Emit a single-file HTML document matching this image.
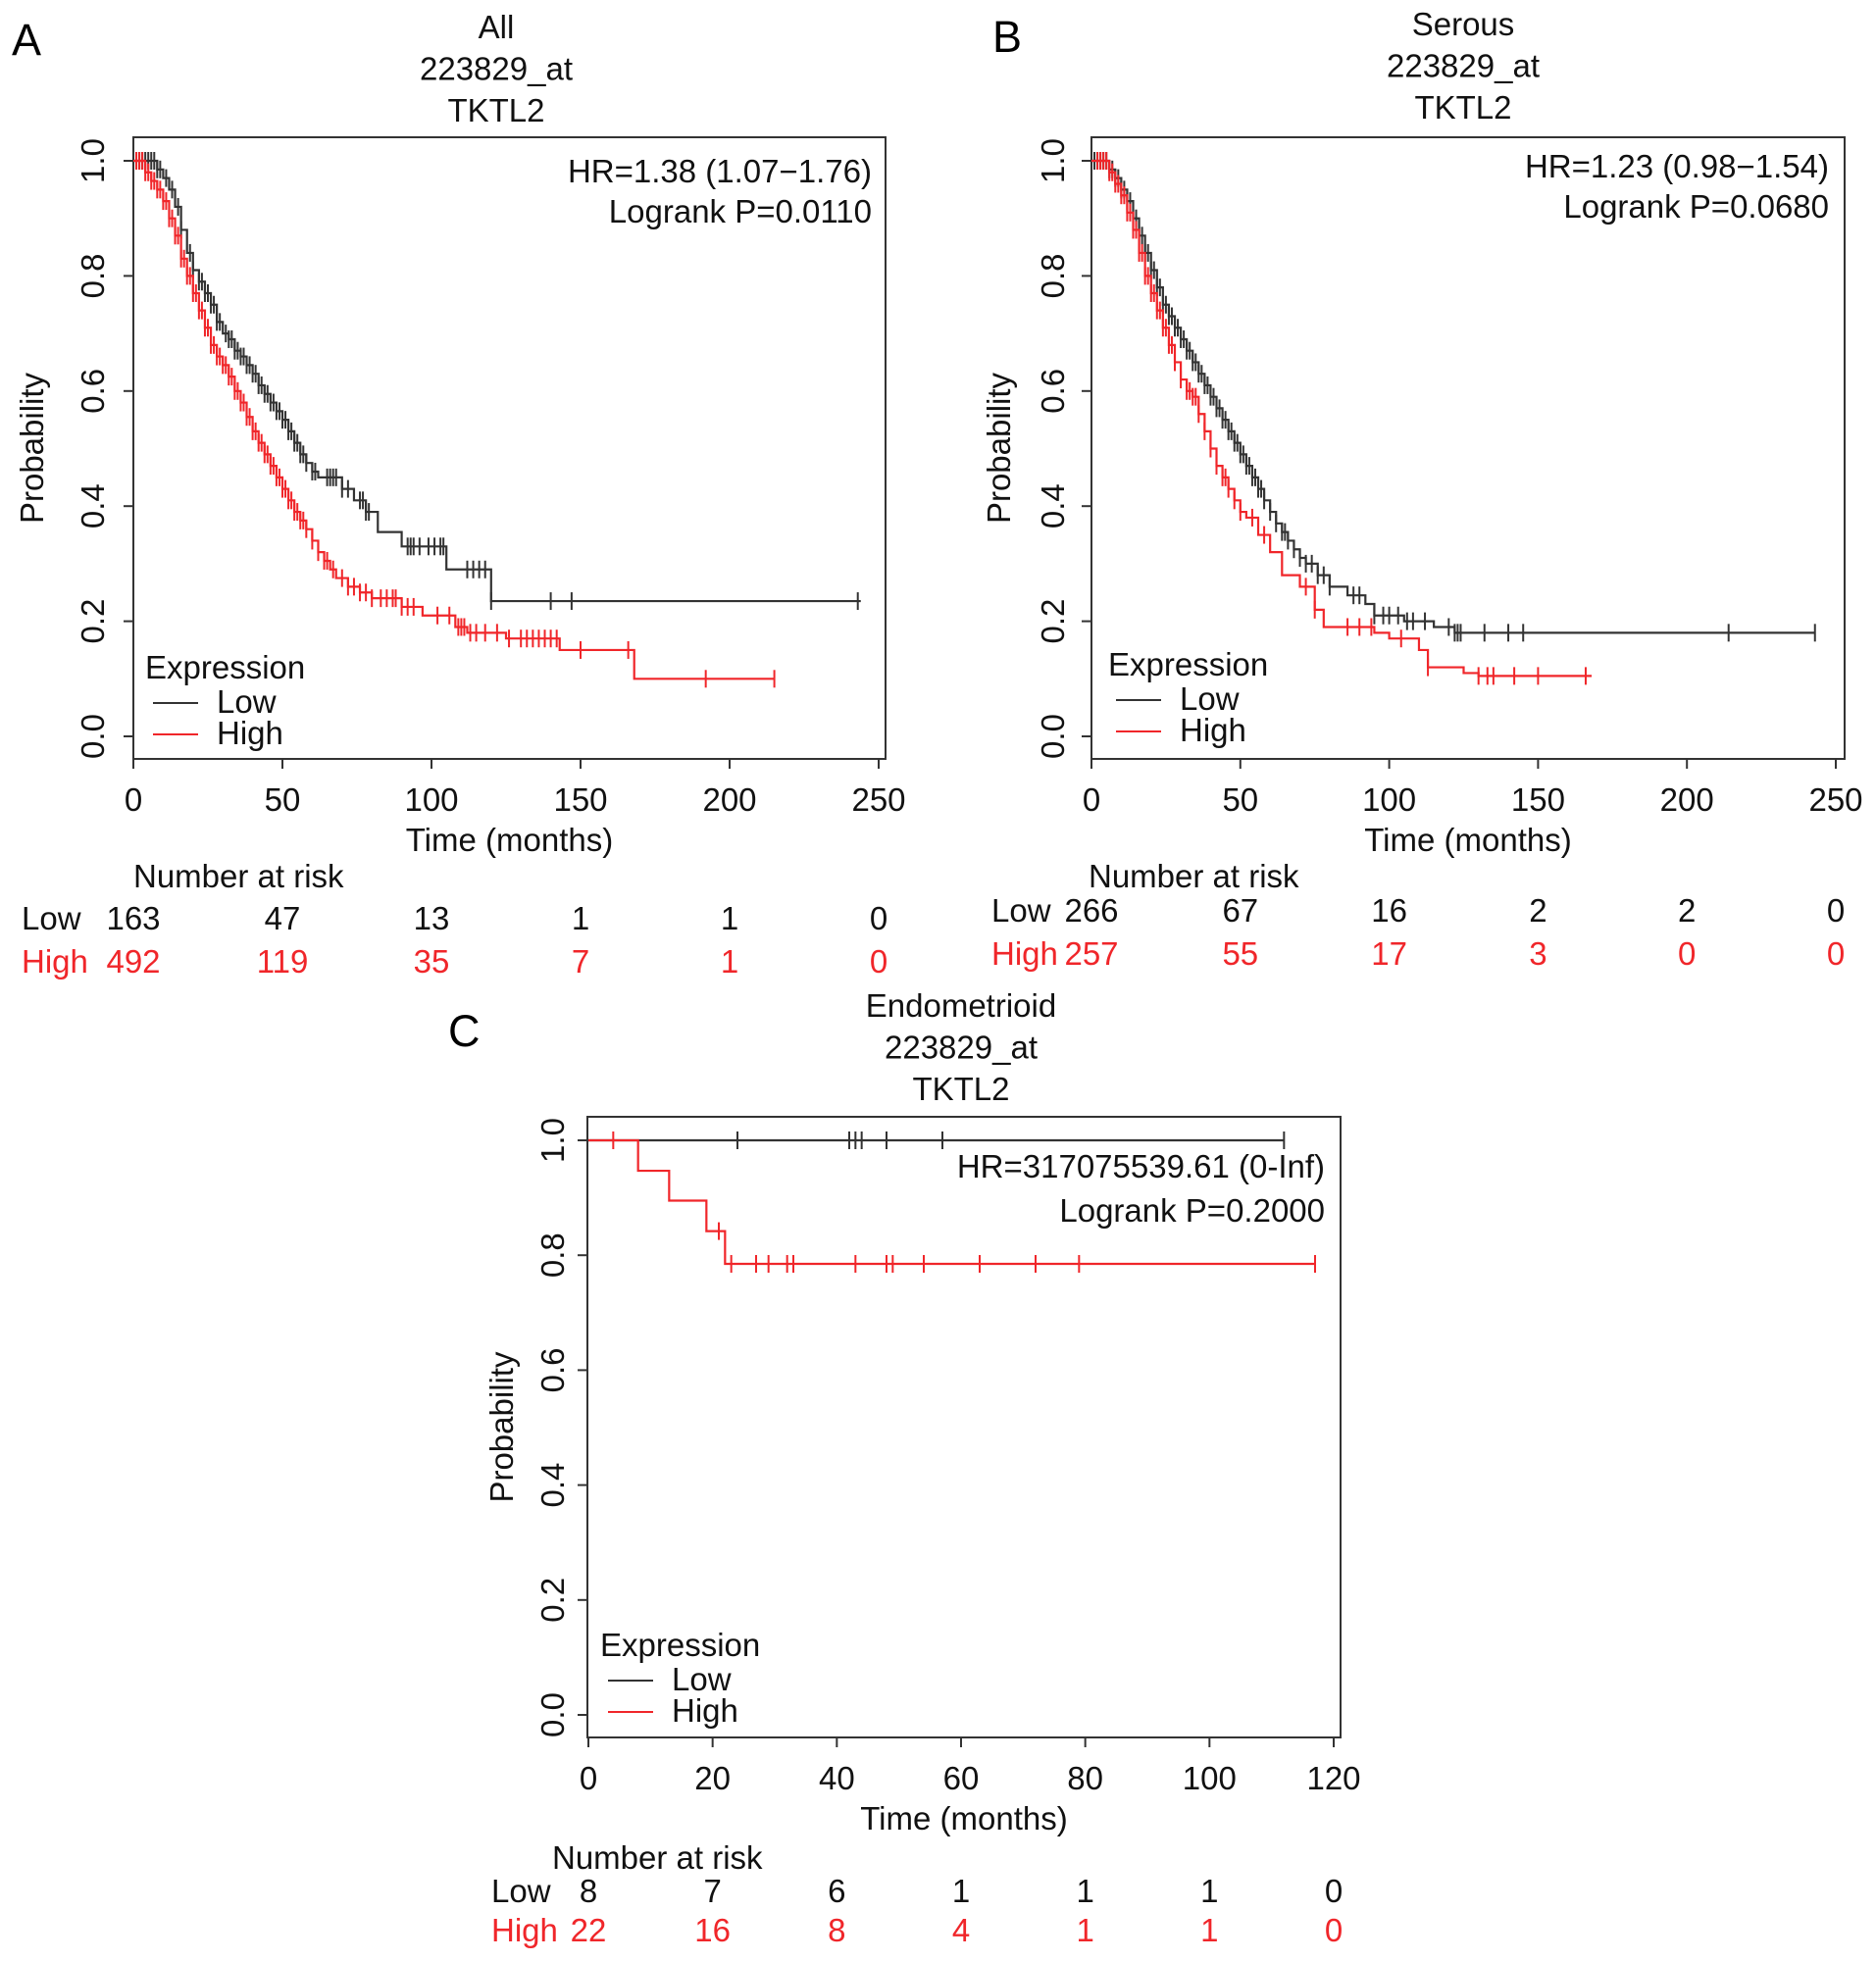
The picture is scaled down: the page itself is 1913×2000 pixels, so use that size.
<!DOCTYPE html>
<html><head><meta charset="utf-8"><style>
html,body{margin:0;padding:0;background:#fff;}
svg{display:block;font-family:"Liberation Sans",Arial,sans-serif;}
</style></head><body>
<svg id="fig" width="1913" height="2000" viewBox="0 0 1913 2000"></svg>
<script>
// ---- Panel A data (All) ----
const aLowT=[0,8,10,12,14,16,18,20,22,24,26,28,30,32,34,36,38,40,42,44,46,48,50,52,54,56,58,60,62,66,70,74,78,82,90,105,120,244];
const aLowS=[1,0.985,0.97,0.95,0.92,0.88,0.84,0.81,0.79,0.77,0.75,0.72,0.7,0.69,0.67,0.66,0.645,0.63,0.61,0.595,0.58,0.565,0.55,0.53,0.51,0.49,0.475,0.46,0.45,0.45,0.43,0.41,0.39,0.355,0.33,0.29,0.235,0.235];
const aLowC=[1,2,3,4,5,6,7,8,9,11,13,15,16,19,20,22,23,24,25,26,27,28,29,31,32,33,34,35,36,37,38,39,40,41,42,43,44,45,46,47,48,49,50,51,52,53,54,55,56,57,58,60,61,65,66,67,68,70,72,76,77,78,79,92,93,94,96,99,101,103,104,112,114,116,118,120,140,147,243];
const aHighT=[0,4,6,8,10,12,14,16,18,20,22,24,26,28,30,32,34,36,38,40,42,44,46,48,50,52,54,56,58,60,62,64,66,68,72,76,80,90,97,108,112,125,143,168,215];
const aHighS=[1,0.98,0.965,0.95,0.93,0.9,0.87,0.83,0.8,0.77,0.74,0.71,0.68,0.66,0.645,0.625,0.6,0.58,0.555,0.53,0.51,0.49,0.47,0.45,0.43,0.41,0.39,0.375,0.36,0.34,0.32,0.305,0.29,0.275,0.26,0.25,0.24,0.225,0.21,0.19,0.18,0.17,0.15,0.1,0.1];
const aHighC=[1,2,3,4,5,6,7,8,9,10,11,12,13,14,15,16,17,18,19,20,21,22,23,24,25,26,27,28,29,30,31,32,33,34,35,36,37,38,39,40,41,42,43,44,45,46,47,48,49,50,51,52,53,54,55,56,57,58,60,62,64,65,67,70,72,74,76,78,80,83,85,87,88,90,92,94,102,106,109,110,111,113,115,118,122,126,130,132,134,136,138,140,142,150,166,192,215];
const aLowRisk=[163,47,13,1,1,0];
const aHighRisk=[492,119,35,7,1,0];
const abTicksX=[0,50,100,150,200,250];
const yTicks=[0,0.2,0.4,0.6,0.8,1.0];
// ---- Panel B data (Serous) ----
const bLowT=[0,6,8,10,12,14,16,18,20,22,24,26,28,30,32,34,36,38,40,42,44,46,48,50,52,54,56,58,60,62,64,66,68,70,72,76,80,86,92,95,105,115,122,243];
const bLowS=[1,0.985,0.97,0.95,0.93,0.9,0.87,0.84,0.81,0.78,0.75,0.73,0.71,0.69,0.67,0.65,0.63,0.61,0.59,0.57,0.55,0.53,0.51,0.49,0.47,0.45,0.43,0.41,0.39,0.37,0.355,0.34,0.325,0.31,0.3,0.28,0.26,0.245,0.23,0.21,0.2,0.19,0.18,0.18];
const bLowC=[1,2,3,4,5,6,7,8,9,10,11,12,13,14,15,16,17,18,19,20,21,22,23,24,25,26,27,28,29,30,31,32,33,34,35,36,37,38,39,40,41,42,43,44,45,46,47,48,49,50,51,52,53,54,55,56,57,58,60,62,64,65,66,68,70,72,74,76,78,80,88,90,95,98,100,103,106,108,112,120,122,123,124,132,140,145,214,243];
const bHighT=[0,6,8,10,12,14,16,18,20,22,24,26,28,30,32,34,36,38,40,42,44,46,48,50,52,56,60,64,70,75,78,95,100,110,113,125,130,168];
const bHighS=[1,0.98,0.96,0.94,0.91,0.88,0.84,0.8,0.77,0.74,0.71,0.68,0.65,0.62,0.6,0.59,0.56,0.53,0.5,0.47,0.45,0.43,0.41,0.39,0.38,0.35,0.32,0.28,0.26,0.22,0.19,0.18,0.17,0.15,0.12,0.11,0.105,0.105];
const bHighC=[2,3,4,5,6,7,8,9,10,11,12,13,14,15,16,17,18,19,20,21,22,23,24,25,26,27,28,30,32,33,34,35,36,38,40,42,44,45,46,48,50,54,58,72,75,86,90,94,104,113,130,133,135,142,150,166];
const bLowRisk=[266,67,16,2,2,0];
const bHighRisk=[257,55,17,3,0,0];
// ---- Panel C data (Endometrioid) ----
const cLowT=[0,112];
const cLowS=[1,1];
const cLowC=[24,42,43,44,48,57,112];
const cHighT=[0,8,13,19,22,117];
const cHighS=[1,0.947,0.895,0.842,0.785,0.785];
const cHighC=[4,21,23,27,29,32,33,43,48,49,54,63,72,79,117];
const cLowRisk=[8,7,6,1,1,1,0];
const cHighRisk=[22,16,8,4,1,1,0];
const cTicksX=[0,20,40,60,80,100,120];

const NS='http://www.w3.org/2000/svg';
const svg=document.getElementById('fig');
const RED='#f0262a', BLK='#333';
function mk(tag,attrs,parent,text){const e=document.createElementNS(NS,tag);for(const k in attrs)e.setAttribute(k,attrs[k]);if(text!==undefined)e.textContent=text;(parent||svg).appendChild(e);return e;}

function panel(p){
  const g=mk('g',{});
  
  
  const sx=v=>p.x0+(v-p.xmin)/(p.xmax-p.xmin)*(p.x1-p.x0);
  const sy=v=>p.y0+(1-v)*(p.y1-p.y0);
  const fs=33;
  let t=mk('text',{x:p.letter[0],y:p.letter[1],'font-size':45,fill:'#000'},g,p.id.toUpperCase());
  
  p.title.forEach((s,i)=>{const e=mk('text',{x:p.tcx,y:p.ty+i*42.5,'font-size':fs,'text-anchor':'middle',fill:'#111'},g,s);
    });
  let b=mk('rect',{x:p.bx0,y:p.by0,width:p.bx1-p.bx0,height:p.by1-p.by0,fill:'none',stroke:'#333','stroke-width':2},g);
  
  yTicks.forEach(v=>{mk('line',{x1:p.bx0,x2:p.bx0-10,y1:sy(v),y2:sy(v),stroke:'#333','stroke-width':2},g);
    const e=mk('text',{x:p.ylx,y:sy(v),'font-size':fs,'text-anchor':'middle',transform:`rotate(-90 ${p.ylx} ${sy(v)})`,fill:'#111'},g,v.toFixed(1));
    });
  mk('line',{x1:p.bx0,x2:p.bx0,y1:sy(0),y2:sy(1),stroke:'#333','stroke-width':2},g);
  p.ticks.forEach(v=>{mk('line',{x1:sx(v),x2:sx(v),y1:p.by1,y2:p.by1+10,stroke:'#333','stroke-width':2},g);
    const e=mk('text',{x:sx(v),y:p.by1+53,'font-size':fs,'text-anchor':'middle',fill:'#111'},g,String(v));
    });
  mk('line',{x1:sx(p.xmin),x2:sx(p.xmax),y1:p.by1,y2:p.by1,stroke:'#333','stroke-width':2},g);
  let xl=mk('text',{x:(p.bx0+p.bx1)/2,y:p.by1+94,'font-size':fs,'text-anchor':'middle',fill:'#111'},g,'Time (months)');
  
  let yl=mk('text',{x:p.ytx,y:(p.by0+p.by1)/2,'font-size':fs,'text-anchor':'middle',transform:`rotate(-90 ${p.ytx} ${(p.by0+p.by1)/2})`,fill:'#111'},g,'Probability');
  
  function curve(T,S,C,col,name){
    let d=`M${sx(T[0])},${sy(S[0])}`;
    for(let i=1;i<T.length;i++){d+=` H${sx(T[i])} V${sy(S[i])}`;}
    const path=mk('path',{d:d,fill:'none',stroke:col,'stroke-width':2.2},g);
    
    C.forEach(c=>{let s=S[0];for(let i=0;i<T.length;i++){if(T[i]<=c)s=S[i];}
      const m=mk('line',{x1:sx(c),x2:sx(c),y1:sy(s)-9,y2:sy(s)+9,stroke:col,'stroke-width':2},g);
      });
  }
  curve(p.lowT,p.lowS,p.lowC,BLK,'low');
  curve(p.highT,p.highS,p.highC,RED,'high');
  p.hr.forEach((s,i)=>{const e=mk('text',{x:p.hrx,y:p.hry+i*p.hrgap,'font-size':fs,'text-anchor':'end',fill:'#111'},g,s);
    });
  const L=p.leg;
  let e=mk('text',{x:L[0],y:L[1],'font-size':fs,fill:'#111'},g,'Expression');
  
  [['Low',BLK],['High',RED]].forEach((it,i)=>{const yy=L[1]+35+i*32;
    mk('line',{x1:L[0]+8,x2:L[0]+54,y1:yy-10,y2:yy-10,stroke:it[1],'stroke-width':2},g);
    const t=mk('text',{x:L[0]+73,y:yy,'font-size':fs,fill:'#111'},g,it[0]);
    });
  let n=mk('text',{x:p.nrx,y:p.nry,'font-size':fs,fill:'#111'},g,'Number at risk');
  
  [['Low',p.lowRisk,'#111',p.nry1],['High',p.highRisk,RED,p.nry2]].forEach(r=>{
    const lb=mk('text',{x:p.rlx,y:r[3],'font-size':fs,fill:r[2]},g,r[0]);
    
    r[1].forEach((v,i)=>{const tt=mk('text',{x:sx(p.ticks[i]),y:r[3],'font-size':fs,'text-anchor':'middle',fill:r[2]},g,String(v));
      });
  });
}

panel({id:'a',letter:[12,56],title:['All','223829_at','TKTL2'],tcx:506,ty:39,
  bx0:136,bx1:903,by0:140,by1:774,x0:136,x1:896,xmin:0,xmax:250,y0:164,y1:751,
  ticks:abTicksX,ylx:106,ytx:44,lowT:aLowT,lowS:aLowS,lowC:aLowC,highT:aHighT,highS:aHighS,highC:aHighC,
  hr:['HR=1.38 (1.07\u22121.76)','Logrank P=0.0110'],hrx:889,hry:186,hrgap:41,
  leg:[148,692],nrx:136,nry:905,nry1:948,nry2:992,rlx:22,lowRisk:aLowRisk,highRisk:aHighRisk});
panel({id:'b',letter:[1012,53],title:['Serous','223829_at','TKTL2'],tcx:1492,ty:36,
  bx0:1113,bx1:1881,by0:140,by1:774,x0:1113,x1:1872,xmin:0,xmax:250,y0:164,y1:751,
  ticks:abTicksX,ylx:1085,ytx:1030,lowT:bLowT,lowS:bLowS,lowC:bLowC,highT:bHighT,highS:bHighS,highC:bHighC,
  hr:['HR=1.23 (0.98\u22121.54)','Logrank P=0.0680'],hrx:1865,hry:181,hrgap:41,
  leg:[1130,689],nrx:1110,nry:905,nry1:940,nry2:984,rlx:1011,lowRisk:bLowRisk,highRisk:bHighRisk});
panel({id:'c',letter:[457,1067],title:['Endometrioid','223829_at','TKTL2'],tcx:980,ty:1037,
  bx0:599,bx1:1367,by0:1139,by1:1772,x0:600,x1:1360,xmin:0,xmax:120,y0:1163,y1:1749,
  ticks:cTicksX,ylx:575,ytx:523,lowT:cLowT,lowS:cLowS,lowC:cLowC,highT:cHighT,highS:cHighS,highC:cHighC,
  hr:['HR=317075539.61 (0-Inf)','Logrank P=0.2000'],hrx:1351,hry:1201,hrgap:45,
  leg:[612,1689],nrx:563,nry:1906,nry1:1940,nry2:1980,rlx:501,lowRisk:cLowRisk,highRisk:cHighRisk});
</script>
</body></html>
